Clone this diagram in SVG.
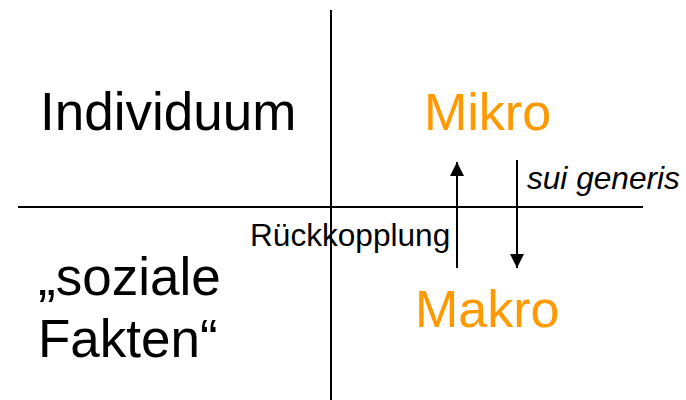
<svg xmlns="http://www.w3.org/2000/svg" width="686" height="400" viewBox="0 0 686 400">
  <style>
    .axis { stroke: #000; stroke-width: 2; fill: none; }
    .arrow { stroke: #000; stroke-width: 2; fill: none; }
    .big { font-family: "Liberation Sans", Arial, sans-serif; font-size: 53px; fill: #000; }
    .level { font-family: "Liberation Sans", Arial, sans-serif; font-size: 52px; fill: #FF9900; }
    .small { font-family: "Liberation Sans", Arial, sans-serif; font-size: 31.6px; fill: #000; }
  </style>
  <defs>
    <marker id="head" viewBox="0 0 10 10" refX="10" refY="5" markerWidth="15" markerHeight="14" markerUnits="userSpaceOnUse" orient="auto">
      <path d="M0,0 L10,5 L0,10 Z" fill="#000"/>
    </marker>
  </defs>
  <rect width="686" height="400" fill="#fff"/>

  <!-- quadrant axes -->
  <g id="axes">
    <line class="axis" x1="18" y1="207" x2="643" y2="207"/>
    <line class="axis" x1="331" y1="10" x2="331" y2="400"/>
  </g>

  <g id="individuum"><text class="big" x="40" y="130">Individuum</text></g>
  <g id="soziale-fakten">
    <text class="big" x="38" y="295">„soziale</text>
    <text class="big" x="38" y="357">Fakten“</text>
  </g>
  <g id="mikro"><text class="level" x="424" y="130">Mikro</text></g>
  <g id="makro"><text class="level" x="415" y="327">Makro</text></g>

  <!-- feedback up, emergence down -->
  <g id="connectors">
    <line class="arrow" x1="457" y1="268" x2="457" y2="162" marker-end="url(#head)"/>
    <line class="arrow" x1="517" y1="160" x2="517" y2="268" marker-end="url(#head)"/>
  </g>
  <g id="label-rueckkopplung"><text class="small" x="250" y="246">Rückkopplung</text></g>
  <g id="label-sui-generis"><text class="small" x="527" y="189" font-style="italic">sui generis</text></g>
</svg>
